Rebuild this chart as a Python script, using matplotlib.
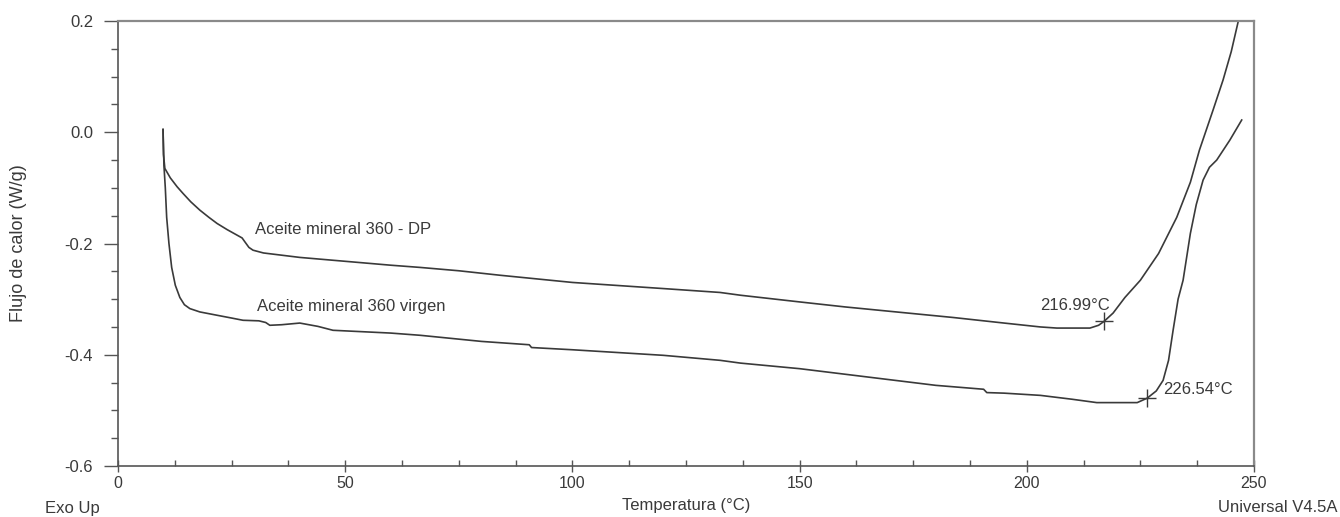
import numpy as np
import matplotlib
matplotlib.use("Agg")
import matplotlib.pyplot as plt
from matplotlib.ticker import MultipleLocator

plt.rcParams['font.family'] = ['Liberation Sans', 'DejaVu Sans']

# curva DP (temperatura en C, flujo de calor W/g)
temp_dp = [9.9, 10.0, 10.3, 11.5, 13.0, 14.3, 16.0, 18.0, 20.0, 21.8, 24.0, 26.2,
           27.3, 28.0, 28.8, 29.7, 32.0, 36.0, 40.0, 50.0, 60.0, 66.5, 75.0, 84.0,
           100.0, 120.0, 132.5, 137.0, 150.0, 160.0, 170.0, 183.8, 195.0, 203.0,
           206.6, 213.9, 215.8, 217.0, 219.0, 221.6, 225.0, 229.0, 233.0, 236.0,
           238.0, 241.0, 243.2, 245.0, 246.5]
flujo_dp = [0.005, -0.04, -0.065, -0.082, -0.098, -0.110, -0.125, -0.140, -0.153, -0.164,
            -0.175, -0.185, -0.190, -0.198, -0.207, -0.212, -0.217, -0.221, -0.225,
            -0.232, -0.239, -0.243, -0.249, -0.257, -0.270, -0.281, -0.288, -0.293,
            -0.305, -0.314, -0.322, -0.333, -0.343, -0.350, -0.352, -0.352, -0.347,
            -0.340, -0.325, -0.297, -0.266, -0.218, -0.153, -0.090, -0.032, 0.040,
            0.094, 0.145, 0.198]

# curva virgen
temp_vir = [9.9, 10.1, 10.4, 10.7, 11.2, 11.8, 12.6, 13.6, 14.6, 15.8, 18.0, 21.8,
            25.0, 27.5, 31.0, 32.5, 33.4, 36.0, 40.0, 44.0, 47.3, 60.0, 66.5, 80.0,
            90.5, 91.0, 100.0, 120.0, 132.5, 137.0, 150.0, 165.0, 180.0, 190.5, 191.2,
            195.0, 203.0, 210.0, 215.4, 224.3, 226.5, 228.5, 230.0, 231.2, 232.2,
            233.3, 234.4, 236.0, 237.3, 238.8, 240.2, 241.8, 244.7, 247.3]
flujo_vir = [0.005, -0.06, -0.10, -0.153, -0.200, -0.243, -0.275, -0.297, -0.310, -0.317,
             -0.323, -0.329, -0.334, -0.338, -0.339, -0.342, -0.347, -0.346, -0.343,
             -0.349, -0.356, -0.361, -0.365, -0.376, -0.382, -0.387, -0.391, -0.401,
             -0.410, -0.415, -0.425, -0.440, -0.455, -0.462, -0.468, -0.469, -0.473,
             -0.480, -0.486, -0.486, -0.478, -0.465, -0.446, -0.410, -0.356, -0.300,
             -0.266, -0.182, -0.130, -0.086, -0.063, -0.050, -0.014, 0.022]

onset_t = [216.99, 226.54]
onset_y = [-0.340, -0.478]
onset_txt = ['216.99°C', '226.54°C']

gris = '#3a3a3a'

fig = plt.figure(figsize=(13.4, 5.17), dpi=100)
ax = fig.add_axes([0.0881, 0.0986, 0.8477, 0.8608])

ax.plot(temp_dp, flujo_dp, color=gris, lw=1.2)
ax.plot(temp_vir, flujo_vir, color=gris, lw=1.2)
ax.plot(onset_t, onset_y, '+', color=gris, ms=13, mew=1.0)

ax.text(218.3, -0.311, onset_txt[0], ha='right', va='center', fontsize=12, color=gris)
ax.text(230.0, -0.462, onset_txt[1], ha='left', va='center', fontsize=12, color=gris)
ax.text(30.1, -0.174, 'Aceite mineral 360 - DP', ha='left', va='center', fontsize=12, color=gris)
ax.text(30.6, -0.313, 'Aceite mineral 360 virgen', ha='left', va='center', fontsize=12, color=gris)

ax.set_xlim(0, 250)
ax.set_ylim(-0.6, 0.2)
ax.set_xticks([0, 50, 100, 150, 200, 250])
ax.set_yticks([-0.6, -0.4, -0.2, 0.0, 0.2])
ax.set_yticklabels(['-0.6', '-0.4', '-0.2', '0.0', '0.2'])
ax.xaxis.set_minor_locator(MultipleLocator(12.5))
ax.yaxis.set_minor_locator(MultipleLocator(0.05))
ax.tick_params(axis='x', which='major', direction='inout', length=9, width=1,
               colors='#555555', labelcolor=gris, labelsize=11.5, pad=3)
ax.tick_params(axis='x', which='minor', direction='in', length=4, width=1, colors='#555555')
ax.tick_params(axis='y', which='major', direction='out', length=10, width=1,
               colors='#555555', labelcolor=gris, labelsize=12, pad=8)
ax.tick_params(axis='y', which='minor', direction='out', length=5, width=1, colors='#555555')

for s in ['left', 'bottom']:
    ax.spines[s].set_color('#555555')
    ax.spines[s].set_linewidth(1.2)
for s in ['top', 'right']:
    ax.spines[s].set_color('#8a8a8a')
    ax.spines[s].set_linewidth(1.6)

ax.set_xlabel('Temperatura (°C)', fontsize=12, color=gris, labelpad=5)
ax.set_ylabel('Flujo de calor (W/g)', fontsize=13, color=gris, labelpad=27)

fig.text(100 / 1340, 1 - 508 / 517, 'Exo Up', ha='right', va='center', fontsize=12, color=gris)
fig.text(1337 / 1340, 1 - 508 / 517, 'Universal V4.5A', ha='right', va='center', fontsize=12, color=gris)

fig.savefig('out.png', dpi=100)
